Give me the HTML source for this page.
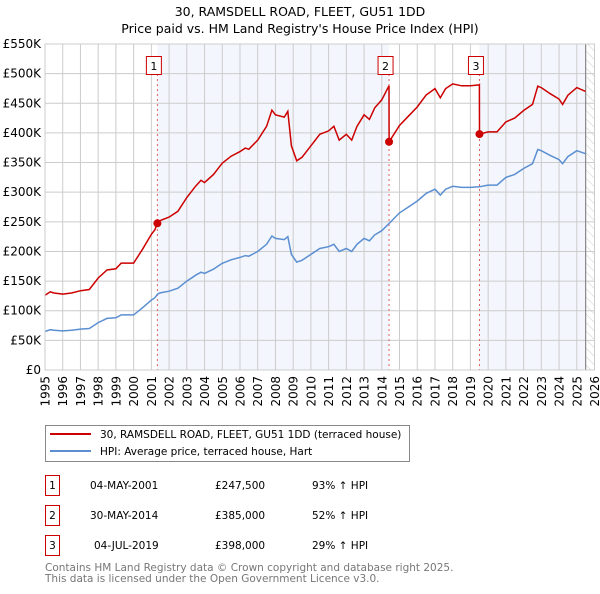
<!DOCTYPE html>
<html><head><meta charset="utf-8"><style>
body{margin:0;background:#fff;font-family:"DejaVu Sans","Liberation Sans",sans-serif;}
svg text{font-family:"DejaVu Sans","Liberation Sans",sans-serif;}
</style></head><body>
<svg id="c" width="600" height="590" xmlns="http://www.w3.org/2000/svg">
<defs><pattern id="hatch" width="6" height="6" patternUnits="userSpaceOnUse" patternTransform="rotate(-45)"><line x1="0" y1="0" x2="0" y2="6" stroke="#ccc" stroke-width="1"/></pattern></defs>
<text x="300" y="16" text-anchor="middle" font-size="12.5">30, RAMSDELL ROAD, FLEET, GU51 1DD</text>
<text x="300" y="33" text-anchor="middle" font-size="12.5">Price paid vs. HM Land Registry's House Price Index (HPI)</text>
<g id="plot"></g>
<g>
<rect x="45.5" y="425.5" width="364" height="36" fill="#fff" stroke="#888"/>
<line x1="50" y1="434" x2="91" y2="434" stroke="#cc0000" stroke-width="2"/>
<text x="100" y="438" font-size="10.5">30, RAMSDELL ROAD, FLEET, GU51 1DD (terraced house)</text>
<line x1="50" y1="451" x2="91" y2="451" stroke="#5b8fd1" stroke-width="2"/>
<text x="100" y="455" font-size="10.5">HPI: Average price, terraced house, Hart</text>
</g>
<g id="table" font-size="10.5"></g>
<text x="45" y="571" font-size="10.5" fill="#777">Contains HM Land Registry data © Crown copyright and database right 2025.</text>
<text x="45" y="582" font-size="10.5" fill="#777">This data is licensed under the Open Government Licence v3.0.</text>
</svg>
<script>
const hpiYears=[1995.0,1995.3,1995.5,1996.0,1996.5,1997.0,1997.5,1998.0,1998.5,1999.0,1999.3,1999.5,2000.0,2000.5,2001.0,2001.2,2001.35,2001.5,2002.0,2002.5,2003.0,2003.5,2003.8,2004.0,2004.5,2005.0,2005.5,2006.0,2006.3,2006.5,2007.0,2007.5,2007.8,2008.0,2008.5,2008.7,2008.9,2009.2,2009.5,2010.0,2010.5,2011.0,2011.3,2011.6,2012.0,2012.3,2012.6,2013.0,2013.3,2013.6,2014.0,2014.4,2015.0,2015.5,2016.0,2016.5,2017.0,2017.3,2017.6,2018.0,2018.5,2019.0,2019.5,2020.0,2020.5,2021.0,2021.5,2022.0,2022.5,2022.8,2023.0,2023.5,2024.0,2024.2,2024.5,2025.0,2025.5];
const hpiValues=[65,68,67,66,67,69,70,80,87,88,93,93,93,105,118,122,128,130,133,138,150,160,165,163,170,180,186,190,193,192,200,212,226,222,220,225,195,182,185,195,205,208,212,200,205,200,212,222,218,228,235,247,265,275,285,298,305,295,305,310,308,308,309,312,312,325,330,340,348,372,370,362,355,348,360,370,365];
const saleYears=[2001.34,2014.41,2019.51];
const salePrices=[247500,385000,398000];
const saleLabels=["1","2","3"];
const saleDates=["04-MAY-2001","30-MAY-2014","04-JUL-2019"];
const salePriceText=["£247,500","£385,000","£398,000"];
const saleDiffText=["93% ↑ HPI","52% ↑ HPI","29% ↑ HPI"];
const yTicks=[0,50,100,150,200,250,300,350,400,450,500,550];
const yTickLabels=["£0","£50K","£100K","£150K","£200K","£250K","£300K","£350K","£400K","£450K","£500K","£550K"];
const xTicks=[1995,1996,1997,1998,1999,2000,2001,2002,2003,2004,2005,2006,2007,2008,2009,2010,2011,2012,2013,2014,2015,2016,2017,2018,2019,2020,2021,2022,2023,2024,2025,2026];
const dataEnd=2025.5;

const L=45,R=594.5,T=44,B=370;
const X=y=>L+(y-1995)/(2026-1995)*(R-L);
const Y=v=>B-v/550*(B-T);
const NS="http://www.w3.org/2000/svg";
const g=document.getElementById('plot');
function mk(tag,attrs,parent){const e=document.createElementNS(NS,tag);for(const k in attrs)e.setAttribute(k,attrs[k]);(parent||g).appendChild(e);return e;}
function hpiAt(t){for(let i=0;i<hpiYears.length-1;i++){if(t<=hpiYears[i+1]){const f=(t-hpiYears[i])/(hpiYears[i+1]-hpiYears[i]);return hpiValues[i]+f*(hpiValues[i+1]-hpiValues[i]);}}return hpiValues[hpiValues.length-1];}
let r=mk('rect',{x:X(saleYears[0]),y:T,width:X(saleYears[1])-X(saleYears[0]),height:B-T,fill:'#f3f6fd'});

r=mk('rect',{x:X(saleYears[2]),y:T,width:X(dataEnd)-X(saleYears[2]),height:B-T,fill:'#f3f6fd'});

r=mk('rect',{x:X(dataEnd),y:T,width:R-X(dataEnd),height:B-T,fill:'url(#hatch)'});

yTicks.forEach((v,i)=>{
 const l=mk('line',{x1:L,x2:R,y1:Y(v),y2:Y(v),stroke:'#ccc','stroke-width':1});
 
 const t=mk('text',{x:L-4,y:Y(v)+4,'text-anchor':'end','font-size':12});
 
 t.textContent=yTickLabels[i];
});
xTicks.forEach(y=>{
 const l=mk('line',{x1:X(y),x2:X(y),y1:T,y2:B,stroke:'#ccc','stroke-width':1});
 
 const t=mk('text',{x:0,y:0,'text-anchor':'end','font-size':12,transform:`translate(${X(y)+4.5},${B+6}) rotate(-90)`});
 
 t.textContent=y;
});
let e=mk('line',{x1:X(dataEnd),x2:X(dataEnd),y1:T,y2:B,stroke:'#888','stroke-width':1.2});

saleYears.forEach((s,i)=>{
 const l=mk('line',{x1:X(s),x2:X(s),y1:T+30,y2:B,stroke:'#e06060','stroke-width':1,'stroke-dasharray':'2,3'});
 
});
let d=hpiYears.map((t,i)=>(i?'L':'M')+X(t).toFixed(1)+','+Y(hpiValues[i]).toFixed(1)).join('');
e=mk('path',{d:d,fill:'none',stroke:'#5b8fd1','stroke-width':1.5});

const factors=saleYears.map((s,i)=>salePrices[i]/1000/hpiAt(s));
let pts=[];
hpiYears.forEach((t,i)=>{
 let k=0;for(let j=0;j<saleYears.length;j++)if(t>=saleYears[j])k=j;
 pts.push([t,hpiValues[i]*factors[k]]);
});
saleYears.forEach((s,j)=>{if(j>0)pts.push([s-0.001,hpiAt(s)*factors[j-1]]);pts.push([s,salePrices[j]/1000]);});
pts.sort((a,b)=>a[0]-b[0]);
d=pts.map((p,i)=>(i?'L':'M')+X(p[0]).toFixed(1)+','+Y(p[1]).toFixed(1)).join('');
e=mk('path',{d:d,fill:'none',stroke:'#cc0000','stroke-width':1.5});

saleYears.forEach((s,i)=>{
 const c=mk('circle',{cx:X(s),cy:Y(salePrices[i]/1000),r:4,fill:'#cc0000'});
 
 const b=mk('rect',{x:X(s)-11,y:56.5,width:15,height:18,fill:'#fff',stroke:'#cc0000'});
 
 const t=mk('text',{x:X(s)-3.5,y:70,'text-anchor':'middle','font-size':11});
 
 t.textContent=saleLabels[i];
});
e=mk('rect',{x:L,y:T,width:R-L,height:B-T,fill:'none',stroke:'#ccc'});

const tb=document.getElementById('table');
saleYears.forEach((s,i)=>{
 const y0=475+i*30;
 const b=mk('rect',{x:45.5,y:y0+0.5,width:14,height:20,fill:'#fff',stroke:'#cc0000'},tb);
 
 let t=mk('text',{x:52.5,y:y0+14,'text-anchor':'middle'},tb);
 t.textContent=saleLabels[i];
 t=mk('text',{x:i==2?94:90,y:y0+14},tb);
 t.textContent=saleDates[i];
 t=mk('text',{x:215,y:y0+14},tb);
 t.textContent=salePriceText[i];
 t=mk('text',{x:312,y:y0+14},tb);
 t.textContent=saleDiffText[i];
});
</script>
</body></html>
